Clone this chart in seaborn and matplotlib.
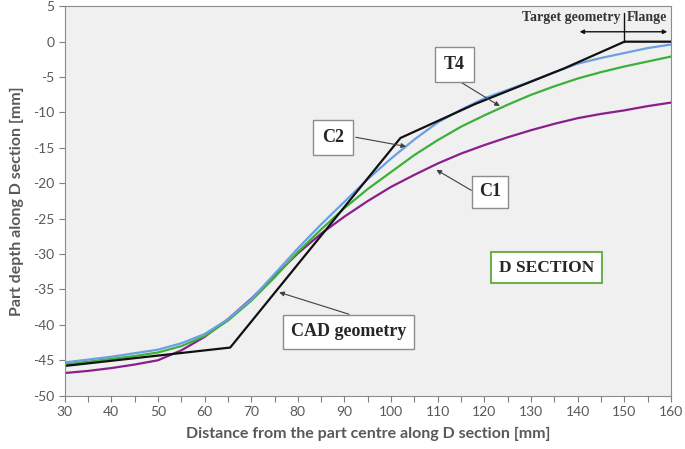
import matplotlib
matplotlib.use("Agg")
import matplotlib.pyplot as plt
import seaborn as sns
import pandas as pd
import numpy as np
from matplotlib.ticker import MultipleLocator

# ---------------- data ----------------
x_sim = [30, 35, 40, 45, 50, 55, 60, 65, 70, 75, 80, 85, 90, 95, 100, 105, 110,
         115, 120, 125, 130, 135, 140, 145, 150, 155, 160]
c2_vals = [-45.3, -44.9, -44.5, -44.0, -43.5, -42.6, -41.3, -39.2, -36.4, -32.8, -29.2,
           -25.8, -22.6, -19.4, -16.5, -13.8, -11.4, -9.6, -8.0, -6.8, -5.6, -4.3,
           -3.1, -2.3, -1.6, -0.9, -0.4]
t4_vals = [-45.6, -45.2, -44.8, -44.4, -43.9, -43.0, -41.6, -39.4, -36.6, -33.3, -29.7,
           -26.5, -23.5, -20.8, -18.4, -16.0, -13.9, -12.0, -10.4, -8.9, -7.5, -6.3,
           -5.2, -4.3, -3.5, -2.8, -2.1]
c1_vals = [-46.8, -46.5, -46.1, -45.6, -45.0, -43.6, -41.7, -39.2, -36.3, -33.1, -29.9,
           -27.1, -24.7, -22.5, -20.5, -18.8, -17.2, -15.8, -14.6, -13.5, -12.5, -11.6,
           -10.8, -10.2, -9.7, -9.1, -8.6]
cad_x = [30, 65.5, 102, 118, 137, 150, 160]
cad_y = [-45.8, -43.2, -13.6, -8.8, -3.8, 0, 0]

series_names = ["C1", "T4", "C2", "CAD"]
colors = {"C1": "#8a1f8c", "T4": "#3db03a", "C2": "#6b9fe3", "CAD": "#111111"}

x_ticks = list(range(30, 161, 10))
y_ticks = list(range(-50, 6, 5))

# ---------------- build table ----------------
frames = [
    pd.DataFrame({"x": x_sim, "y": c1_vals, "s": "C1"}),
    pd.DataFrame({"x": x_sim, "y": t4_vals, "s": "T4"}),
    pd.DataFrame({"x": x_sim, "y": c2_vals, "s": "C2"}),
    pd.DataFrame({"x": cad_x, "y": cad_y, "s": "CAD"}),
]
df = pd.concat(frames, ignore_index=True)

sns.set_style("white")
plt.rcParams["font.family"] = ["Lato", "DejaVu Sans"]
plt.rcParams["axes.unicode_minus"] = False

fig = plt.figure(figsize=(6.85, 4.49), dpi=100)
ax = fig.add_axes([0.0943, 0.1187, 0.9796 - 0.0943, 0.986 - 0.1187])
ax.set_facecolor("#f0f0f0")

sns.lineplot(data=df, x="x", y="y", hue="s", hue_order=series_names,
             palette=colors, estimator=None, sort=False, linewidth=1.6,
             legend=False, ax=ax)

ax.set_xlim(30, 160)
ax.set_ylim(-50, 5)
ax.set_xticks(x_ticks)
ax.xaxis.set_minor_locator(MultipleLocator(5))
ax.set_yticks(y_ticks)
gray = "#595959"
ax.tick_params(axis="both", which="both", direction="out", length=4, width=0.8,
               color="#7f7f7f", labelcolor=gray, labelsize=10)
ax.tick_params(axis="x", which="both", bottom=True)
ax.tick_params(axis="y", left=True)
for sp in ax.spines.values():
    sp.set_color("#8c8c8c")
    sp.set_linewidth(0.8)

ax.set_xlabel("Distance from the part centre along D section [mm]", fontsize=11.5,
              fontweight="bold", color=gray, labelpad=6)
ax.set_ylabel("Part depth along D section [mm]", fontsize=11.5,
              fontweight="bold", color=gray, labelpad=6)

# ---------------- annotations ----------------
serif = "Liberation Serif"
arrow = dict(arrowstyle="-|>", color="#404040", lw=0.8, mutation_scale=7,
             shrinkA=0, shrinkB=0)

ax.annotate("", xy=(123.3, -9.1), xytext=(113.9, -5.3), arrowprops=arrow)
ax.annotate("", xy=(103.2, -14.8), xytext=(92.4, -13.5), arrowprops=arrow)
ax.annotate("", xy=(109.7, -18.1), xytext=(117.2, -21.0), arrowprops=arrow)
ax.annotate("", xy=(76.0, -35.4), xytext=(91.0, -38.5), arrowprops=arrow)

ax.text(113.6, -3.2, "T4", family=serif, fontsize=13, fontweight="bold",
        ha="center", va="center", bbox=dict(boxstyle="square,pad=0.5", fc="white", ec="#8c8c8c", lw=1.0))
ax.text(87.5, -13.5, "C2", family=serif, fontsize=13, fontweight="bold",
        ha="center", va="center", bbox=dict(boxstyle="square,pad=0.5", fc="white", ec="#8c8c8c", lw=1.0))
ax.text(121.2, -21.2, "C1", family=serif, fontsize=13, fontweight="bold",
        ha="center", va="center", bbox=dict(boxstyle="square,pad=0.4", fc="white", ec="#8c8c8c", lw=1.0))
ax.text(90.9, -41.0, "CAD geometry", family=serif, fontsize=13, fontweight="bold",
        ha="center", va="center",
        bbox=dict(boxstyle="square,pad=0.45", fc="white", ec="#8c8c8c", lw=1.0))
ax.text(133.3, -31.9, "D SECTION", family=serif, fontsize=12.5, fontweight="bold",
        ha="center", va="center",
        bbox=dict(boxstyle="square,pad=0.45", fc="white", ec="#6fb04e", lw=1.5))

# target geometry / flange marker
ax.text(149.2, 3.35, "Target geometry", family=serif, fontsize=10, fontweight="bold",
        ha="right", va="center", color="#333333")
ax.text(150.6, 3.35, "Flange", family=serif, fontsize=10, fontweight="bold",
        ha="left", va="center", color="#333333")
ax.plot([150, 150], [0, 4.0], color="#111111", lw=1.0)
dbl = dict(arrowstyle="<|-|>", color="#111111", lw=1.0, mutation_scale=6,
           shrinkA=0, shrinkB=0)
ax.annotate("", xy=(140.4, 1.4), xytext=(159.2, 1.4), arrowprops=dbl)

fig.savefig("out.png", dpi=100, facecolor="white")
